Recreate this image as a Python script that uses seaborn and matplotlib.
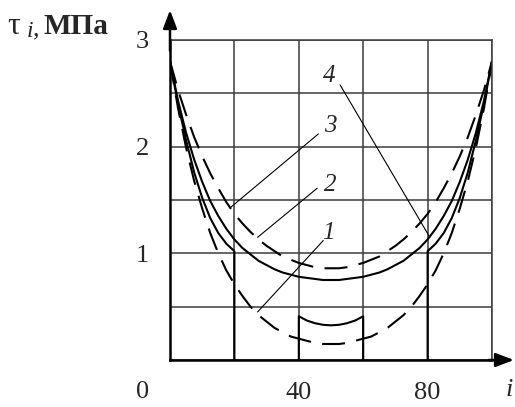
import numpy as np
import matplotlib
matplotlib.use("Agg")
import matplotlib.pyplot as plt
import seaborn as sns

# --- data -----------------------------------------------------------------
I_FULL = [0, 2.5, 5, 7.5, 10, 12.5, 15, 17.5, 20, 22.5, 25, 27.5, 30, 32.5, 35,
          37.5, 40, 42.5, 45, 47.5, 50, 52.5, 55, 57.5, 60, 62.5, 65, 67.5, 70,
          72.5, 75, 77.5, 80, 82.5, 85, 87.5, 90, 92.5, 95, 97.5, 100]

# curve 1 (dashed, lower)
TAU_1 = [2.80, 2.36, 1.99, 1.68, 1.42, 1.19, 1.00, 0.84, 0.71, 0.60, 0.50,
         0.42, 0.36, 0.30, 0.26, 0.22, 0.20, 0.18, 0.16, 0.15, 0.15, 0.15,
         0.16, 0.18, 0.20, 0.22, 0.26, 0.30, 0.36, 0.42, 0.50, 0.60, 0.71,
         0.84, 1.00, 1.19, 1.42, 1.68, 1.99, 2.36, 2.80]

# curve 2 (dashed, upper)
TAU_2 = [2.80, 2.53, 2.30, 2.09, 1.91, 1.75, 1.61, 1.48, 1.37, 1.28, 1.20,
         1.13, 1.07, 1.02, 0.97, 0.94, 0.91, 0.89, 0.87, 0.86, 0.86, 0.86,
         0.87, 0.89, 0.91, 0.94, 0.97, 1.02, 1.07, 1.13, 1.20, 1.28, 1.37,
         1.48, 1.61, 1.75, 1.91, 2.09, 2.30, 2.53, 2.80]

# curve 3 (solid, continuous)
TAU_3 = [2.80, 2.43, 2.13, 1.88, 1.67, 1.49, 1.35, 1.23, 1.13, 1.05, 0.99,
         0.93, 0.89, 0.85, 0.82, 0.80, 0.78, 0.77, 0.76, 0.75, 0.75, 0.75,
         0.76, 0.77, 0.78, 0.80, 0.82, 0.85, 0.89, 0.93, 0.99, 1.05, 1.13,
         1.23, 1.35, 1.49, 1.67, 1.88, 2.13, 2.43, 2.80]

# curve 4 (solid, three loaded zones with drops to zero)
I_4_LEFT = [0, 2.5, 5, 7.5, 10, 12.5, 15, 17.5, 20, 20]
TAU_4_LEFT = [2.80, 2.40, 2.06, 1.76, 1.52, 1.33, 1.19, 1.09, 1.02, 0.0]
I_4_MID = [40, 40, 42.5, 45, 47.5, 50, 52.5, 55, 57.5, 60, 60]
TAU_4_MID = [0.0, 0.41, 0.37, 0.345, 0.33, 0.325, 0.33, 0.345, 0.37, 0.41, 0.0]
I_4_RIGHT = [80, 80, 82.5, 85, 87.5, 90, 92.5, 95, 97.5, 100]
TAU_4_RIGHT = [0.0, 1.02, 1.09, 1.19, 1.33, 1.52, 1.76, 2.06, 2.40, 2.80]

# curve labels and leader lines: (label, label position, leader start, leader end)
CURVE_NAMES = ["1", "2", "3", "4"]
NAME_POS = [(49.1, 1.19), (49.7, 1.64), (49.7, 2.19), (49.4, 2.66)]
LEADER_FROM = [(47.6, 1.12), (45.7, 1.61), (46.1, 2.12), (52.8, 2.58)]
LEADER_TO = [(27.2, 0.45), (27.2, 1.15), (18.6, 1.425), (80.7, 1.15)]

X_TICKS = [0, 20, 40, 60, 80, 100]
X_TICK_LABELS = ["", "", "40", "", "80", ""]
Y_TICKS = [0, 0.5, 1, 1.5, 2, 2.5, 3]
Y_TICK_LABELS = ["", "", "1", "", "2", "", "3"]

# --- style ------------------------------------------------------------------
sns.set_style("white")
plt.rcParams["font.family"] = ["Liberation Serif", "DejaVu Serif"]

W, H = 515, 407
fig = plt.figure(figsize=(W / 100, H / 100), dpi=100)
ax = fig.add_axes([170 / W, 47 / H, 322 / W, 320 / H])

LW = 1.5
DASH = (0, (11, 5.5))
FS = 19
line_kw = dict(ax=ax, color="black", lw=LW, estimator=None, sort=False, legend=False)

sns.lineplot(x=I_FULL, y=TAU_1, linestyle=DASH, **line_kw)
sns.lineplot(x=I_FULL, y=TAU_2, linestyle=DASH, **line_kw)
sns.lineplot(x=I_FULL, y=TAU_3, **line_kw)
sns.lineplot(x=I_4_LEFT, y=TAU_4_LEFT, **line_kw)
sns.lineplot(x=I_4_MID, y=TAU_4_MID, **line_kw)
sns.lineplot(x=I_4_RIGHT, y=TAU_4_RIGHT, **line_kw)

for name, pos, p0, p1 in zip(CURVE_NAMES, NAME_POS, LEADER_FROM, LEADER_TO):
    ax.plot([p0[0], p1[0]], [p0[1], p1[1]], color="black", lw=0.8)
    ax.text(pos[0], pos[1], name, style="italic", fontsize=18,
            ha="center", va="center")

# grid and frame
ax.set_xlim(0, 100)
ax.set_ylim(0, 3)
ax.set_xticks(X_TICKS)
ax.set_xticklabels(X_TICK_LABELS, fontsize=FS)
ax.set_yticks(Y_TICKS)
ax.set_yticklabels(Y_TICK_LABELS, fontsize=FS)
ax.grid(True, color="#3c3c3c", lw=1.1)
ax.tick_params(length=0)
ax.tick_params(axis="x", pad=16)
ax.tick_params(axis="y", pad=15)
ax.set_xlabel("")
ax.set_ylabel("")
for side in ("top", "right"):
    ax.spines[side].set_color("#3c3c3c")
    ax.spines[side].set_linewidth(1.1)
for side in ("left", "bottom"):
    ax.spines[side].set_color("black")
    ax.spines[side].set_linewidth(1.8)

# axis arrows
arrow = dict(arrowstyle="-|>,head_length=1.1,head_width=0.42", color="black",
             lw=1.8, shrinkA=0, shrinkB=0, mutation_scale=10)
ax.annotate("", xy=(0, 3.28), xytext=(0, 2.9), arrowprops=arrow,
            annotation_clip=False)
ax.annotate("", xy=(106.8, 0), xytext=(99, 0), arrowprops=arrow,
            annotation_clip=False)

# axis captions
fig.text(143 / W, 1 - 392 / H, "0", fontsize=FS, ha="center", va="center")
fig.text(509 / W, 1 - 390 / H, "i", fontsize=FS, style="italic",
         ha="center", va="center")
fig.text(7 / W, 1 - 34 / H, "τ", fontsize=23, ha="left", va="baseline")
fig.text(27 / W, 1 - 37 / H, "i", fontsize=17, style="italic",
         ha="left", va="baseline")
fig.text(33 / W, 1 - 35 / H, ",", fontsize=19, ha="left", va="baseline")
fig.text(43 / W, 1 - 34 / H, "МПа", fontsize=21, fontweight="bold",
         ha="left", va="baseline")

fig.savefig("out.png", dpi=100)
